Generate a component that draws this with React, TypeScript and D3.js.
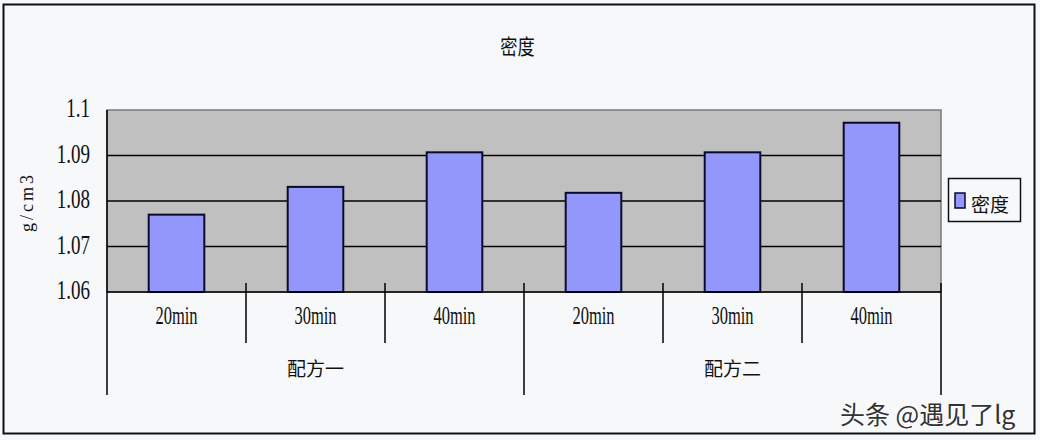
import * as d3 from "d3";

// data
const groups = ["配方一", "配方二"];
const times = ["20min", "30min", "40min"];
const values = [
  [1.077, 1.0831, 1.0907],
  [1.0818, 1.0907, 1.0972],
];
const yTicks = [1.06, 1.07, 1.08, 1.09, 1.1];
const yTickLabels = ["1.06", "1.07", "1.08", "1.09", "1.1"];
const seriesName = "密度";
const title = "密度";
const yTitle = "g/cm3";
const watermark = "头条 @遇见了lg";

const W = 1040;
const H = 440;
const BG = "#f6f8fa";
const PLOT_BG = "#c0c0c0";
const BAR = "#9397fb";
const SERIF = "'Liberation Serif', 'DejaVu Serif', serif";
const CJK = "'Noto Sans CJK SC', 'Noto Sans', sans-serif";

const plot = { left: 107, right: 941, top: 110, bottom: 292 };

export default function App() {
  const cats = groups.flatMap((g) => times.map((t) => `${g}|${t}`));
  const flat = values.flat();

  const x = d3
    .scaleBand<string>()
    .domain(cats)
    .range([plot.left, plot.right])
    .paddingInner(0.6)
    .paddingOuter(0.3);
  const y = d3
    .scaleLinear()
    .domain([yTicks[0], yTicks[yTicks.length - 1]])
    .range([plot.bottom, plot.top]);

  const step = x.step();
  // category edges: x of the left side of each slot
  const edges = d3.range(cats.length + 1).map((i) => plot.left + i * step);
  const groupEdges = d3.range(groups.length + 1).map((i) => edges[i * times.length]);

  return (
    <svg
      width={W}
      height={H}
      style={{ position: "absolute", left: 0, top: 0 }}
    >
      <rect x={0} y={0} width={W} height={H} fill={BG} />
      <rect
        x={3.5}
        y={4.5}
        width={1031}
        height={429}
        fill={BG}
        stroke="#111"
        strokeWidth={2}
      />

      <text
        transform={`translate(${517.5},${45}) scale(0.82,1)`}
        textAnchor="middle"
        dominantBaseline="central"
        fontFamily={CJK}
        fontSize={21}
        fill="#111"
      >
        {title}
      </text>

      {/* plot area */}
      <rect
        x={plot.left}
        y={plot.top}
        width={plot.right - plot.left}
        height={plot.bottom - plot.top}
        fill={PLOT_BG}
        stroke="#7a7a7a"
        strokeWidth={1.5}
      />
      {yTicks.slice(1, -1).map((t) => (
        <line
          key={t}
          x1={plot.left}
          x2={plot.right}
          y1={y(t)}
          y2={y(t)}
          stroke="#000"
          strokeWidth={1.5}
        />
      ))}

      {/* bars */}
      {cats.map((c, i) => (
        <rect
          key={c}
          x={x(c)}
          y={y(flat[i])}
          width={x.bandwidth()}
          height={plot.bottom - y(flat[i])}
          fill={BAR}
          stroke="#0a0a2a"
          strokeWidth={2}
        />
      ))}

      {/* axes */}
      <line x1={plot.left} x2={plot.left} y1={plot.top} y2={395} stroke="#000" strokeWidth={1.5} />
      <line x1={plot.left} x2={plot.right} y1={plot.bottom} y2={plot.bottom} stroke="#000" strokeWidth={1.5} />
      {edges.slice(1, -1).map((e, i) => {
        const isGroup = (i + 1) % times.length === 0;
        return (
          <line
            key={i}
            x1={e}
            x2={e}
            y1={283}
            y2={isGroup ? 395 : 343}
            stroke="#000"
            strokeWidth={1.5}
          />
        );
      })}
      <line x1={plot.right} x2={plot.right} y1={283} y2={395} stroke="#000" strokeWidth={1.5} />

      {/* y tick labels */}
      {yTicks.map((t, i) => (
        <text
          key={t}
          transform={`translate(90,${y(t) + 7}) scale(0.68,1)`}
          textAnchor="end"
          fontFamily={SERIF}
          fontSize={28}
          fill="#111"
        >
          {yTickLabels[i]}
        </text>
      ))}

      <text
        transform="translate(33,202) rotate(-90)"
        textAnchor="middle"
        fontFamily={SERIF}
        fontSize={18}
        letterSpacing={3}
        fill="#111"
      >
        {yTitle}
      </text>

      {/* category labels */}
      {cats.map((c, i) => (
        <text
          key={c}
          transform={`translate(${x(c)! + x.bandwidth() / 2},324) scale(0.66,1)`}
          textAnchor="middle"
          fontFamily={SERIF}
          fontSize={25}
          fill="#111"
        >
          {times[i % times.length]}
        </text>
      ))}
      {groups.map((g, i) => (
        <text
          key={g}
          x={(groupEdges[i] + groupEdges[i + 1]) / 2}
          y={367}
          textAnchor="middle"
          dominantBaseline="central"
          fontFamily={CJK}
          fontSize={19}
          fill="#111"
        >
          {g}
        </text>
      ))}

      {/* legend */}
      <rect x={948.5} y={178.5} width={72} height={43} fill={BG} stroke="#111" strokeWidth={1.5} />
      <rect x={955} y={193} width={10} height={15} fill={BAR} stroke="#0a0a2a" strokeWidth={1.5} />
      <text
        x={990}
        y={203}
        textAnchor="middle"
        dominantBaseline="central"
        fontFamily={CJK}
        fontSize={19}
        fill="#111"
      >
        {seriesName}
      </text>

      {/* watermark */}
      <text x={841} y={425} fontFamily={CJK} fontSize={25} fill="#fff">
        {watermark}
      </text>
      <text x={840} y={424} fontFamily={CJK} fontSize={25} fill="#333">
        {watermark}
      </text>
    </svg>
  );
}
